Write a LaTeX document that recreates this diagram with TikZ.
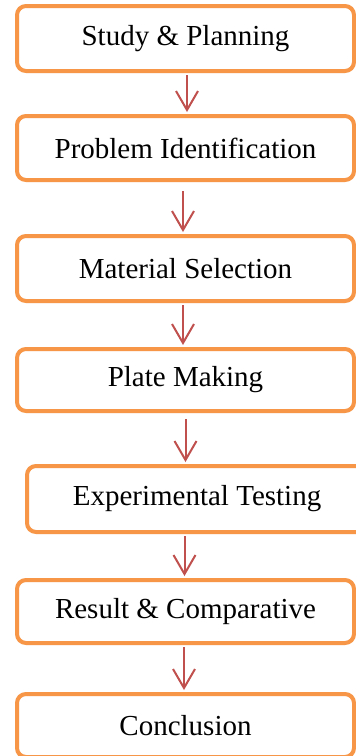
\documentclass[tikz,border=0pt]{standalone}
\usepackage{fontspec}
\setmainfont{Liberation Serif}
\usetikzlibrary{arrows.meta}
\definecolor{boxorange}{HTML}{F79646}
\definecolor{arrowred}{HTML}{C0504D}
\tikzset{
  stagebox/.style={draw=boxorange, line width=4pt, fill=white, rounded corners=9pt,
    inner sep=0pt, minimum width=337pt, minimum height=#1,
    font=\fontsize{29}{34}\selectfont, text=black},
  stagebox/.default=64pt,
  flowarrow/.style={draw=arrowred, line width=2pt,
    -{Straight Barb[length=19pt,width=22pt,line width=2pt]}}
}
\begin{document}
\begin{tikzpicture}[x=1pt,y=-1pt]
  \useasboundingbox (0,0) rectangle (356,756);
  \clip (0,0) rectangle (356,756);
  \fill[white] (0,0) rectangle (356,756);

  \node[stagebox=65pt] (s1) at (185.5,38.5) {Study \& Planning};
  \node[stagebox=64pt] (s2) at (185.5,148) {Problem Identification};
  \node[stagebox=65pt] (s3) at (185.5,268.5) {Material Selection};
  \node[stagebox=62pt] (s4) at (185.5,380) {Plate Making};
  \node[stagebox=66pt, minimum width=340pt] (s5) at (197,499) {Experimental Testing};
  \node[stagebox=63pt] (s6) at (185.5,611.5) {Result \& Comparative};
  \node[stagebox=63pt] (s7) at (185.5,725.5) {Conclusion};

  \draw[flowarrow, shorten <=2pt, shorten >=2pt] ([xshift=1.5pt]s1.south) -- ([xshift=1.5pt]s2.north);
  \draw[flowarrow, shorten <=9pt, shorten >=2pt] ([xshift=-2.5pt]s2.south) -- ([xshift=-2.5pt]s3.north);
  \draw[flowarrow, shorten <=2pt, shorten >=2pt] ([xshift=-2.5pt]s3.south) -- ([xshift=-2.5pt]s4.north);
  \draw[flowarrow, shorten <=6pt, shorten >=2pt] (s4.south) -- (s4.south |- s5.north);
  \draw[flowarrow, shorten <=2pt, shorten >=2pt] ([xshift=-1pt]s6.north |- s5.south) -- ([xshift=-1pt]s6.north);
  \draw[flowarrow, shorten <=2pt, shorten >=2pt] ([xshift=-1.5pt]s6.south) -- ([xshift=-1.5pt]s7.north);
\end{tikzpicture}
\end{document}
